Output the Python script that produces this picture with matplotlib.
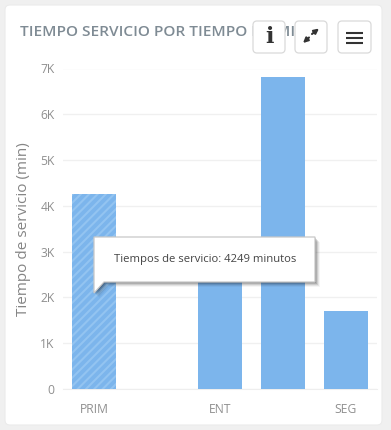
import matplotlib
matplotlib.use('Agg')
import matplotlib.pyplot as plt
from matplotlib.patches import FancyBboxPatch, Polygon, FancyArrowPatch
from matplotlib.ticker import FuncFormatter

categories = ['PRIM', '', 'ENT', '', 'SEG']
positions = [0, 2, 3, 4]
values = [4249, 2700, 6810, 1700]
yticks = [0, 1000, 2000, 3000, 4000, 5000, 6000, 7000]
title = 'TIEMPO SERVICIO POR TIEMPO EN MIN'
ylabel = 'Tiempo de servicio (min)'
tooltip = 'Tiempos de servicio: 4249 minutos'

W, H = 391, 430
plt.rcParams['font.family'] = ['Open Sans', 'DejaVu Sans']
plt.rcParams['hatch.linewidth'] = 1.5
fig = plt.figure(figsize=(W / 100, H / 100), dpi=100, facecolor='#f0f0f0')

bg = fig.add_axes([0, 0, 1, 1], zorder=0)
bg.set_xlim(0, W); bg.set_ylim(H, 0); bg.axis('off')
bg.add_patch(FancyBboxPatch((5 + 4, 5 + 4), 377 - 8, 420 - 8, boxstyle='round,pad=4,rounding_size=5',
                            fc='white', ec='#ebebeb', lw=0.8))
bg.text(20, 32, title, fontsize=11.1, fontweight='semibold', color='#7f8b94', va='center', ha='left')

ax = fig.add_axes([63 / W, 1 - 389 / H, 314 / W, (389 - 68.5) / H], zorder=1)
ax.patch.set_alpha(0)
bars = ax.bar(positions, values, width=0.7, color='#7cb5ec', zorder=3, linewidth=0)
bars[0].set_facecolor('#7cb5ec')
bars[0].set_edgecolor('#93c4f1')
bars[0].set_hatch('////')
bars[0].set_linewidth(0)
ax.set_xlim(-0.5, 4.5)
ax.set_ylim(0, 7000)
ax.set_xticks(range(5))
ax.set_xticklabels(categories)
ax.set_yticks(yticks)
ax.yaxis.set_major_formatter(FuncFormatter(lambda v, p: '0' if v == 0 else f'{int(v / 1000)}K'))
ax.grid(axis='y', color='#f0f0f0', lw=1, zorder=0)
ax.set_axisbelow(True)
for s in ax.spines.values():
    s.set_visible(False)
ax.spines['bottom'].set_visible(True)
ax.spines['bottom'].set_color('#eeeeee')
ax.tick_params(axis='both', length=0, labelcolor='#8f8f8f', labelsize=8.7)
ax.tick_params(axis='x', pad=10)
ax.tick_params(axis='y', pad=6)
ax.set_ylabel(ylabel, fontsize=11, color='#858585', labelpad=7)

top = fig.add_axes([0, 0, 1, 1], zorder=2)
top.set_xlim(0, W); top.set_ylim(H, 0); top.axis('off')
top.patch.set_alpha(0)
for x0, x1 in [(253, 285), (295, 327), (338, 371)]:
    top.add_patch(FancyBboxPatch((x0 + 4, 21 + 4), x1 - x0 - 8, 32 - 8, boxstyle='round,pad=4,rounding_size=4',
                                 fc='white', ec='#dadada', lw=0.9))
top.text(269, 37, 'i', fontsize=16, fontweight='bold', family='DejaVu Serif', color='#333333', ha='center', va='center')
top.add_patch(FancyArrowPatch((312, 34), (319, 28.5), arrowstyle='-|>', mutation_scale=7, color='#333333',
                              lw=1.5, shrinkA=0, shrinkB=0))
top.add_patch(FancyArrowPatch((309, 37.5), (303, 43), arrowstyle='-|>', mutation_scale=7, color='#333333',
                              lw=1.5, shrinkA=0, shrinkB=0))
for y in (33, 38, 43):
    top.plot([346, 363], [y, y], color='#333333', lw=1.5, solid_capstyle='butt')

tip = [(94, 237), (315, 237), (315, 282), (104, 282), (94, 293)]
for off, a in [(5, 0.04), (4, 0.07), (3, 0.10), (2, 0.14), (1, 0.18)]:
    top.add_patch(Polygon([(x + off, y + off) for x, y in tip], closed=True, fc='black', alpha=a, lw=0))
top.add_patch(Polygon(tip, closed=True, fc='white', ec='#c8c8c8', lw=0.9))
top.text(205, 259.5, tooltip, fontsize=8.15, color='#444444', ha='center', va='center')

fig.savefig('out.png', dpi=100, facecolor=fig.get_facecolor())
